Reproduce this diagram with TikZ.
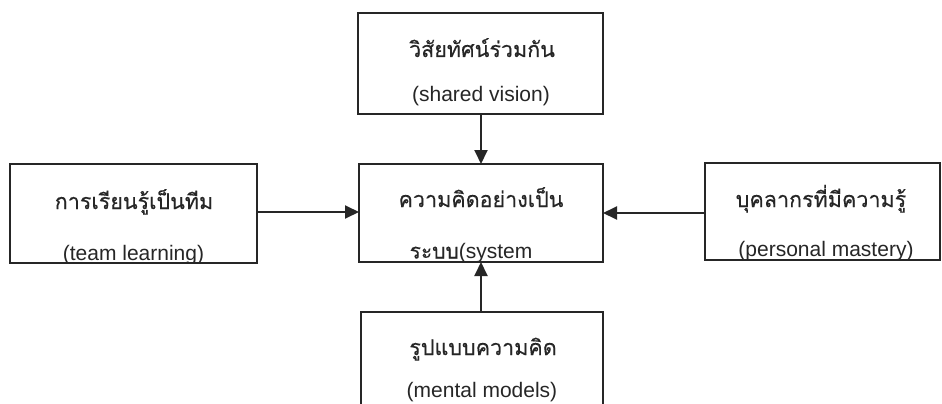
\documentclass[tikz,border=0pt]{standalone}
\usepackage{fontspec}
\setmainfont{Liberation Sans}
\newfontfamily\thaifont[Script=Thai,FakeBold=0.4]{Loma}
\usetikzlibrary{arrows.meta}
\begin{document}
\begin{tikzpicture}[x=1pt,y=-1pt,
  box/.style={draw=black!85, line width=1.9pt, inner sep=0pt, outer sep=0pt},
  th/.style={font=\thaifont\fontsize{21.5}{25}\selectfont, text=black!85, anchor=base, inner sep=0pt},
  en/.style={font=\fontsize{21}{25}\selectfont, text=black!85, anchor=base, inner sep=0pt},
  arr/.style={draw=black!85, line width=1.9pt, -{Triangle[length=14pt,width=13pt]}}]
\useasboundingbox (0,0) rectangle (942,404);
\clip (0,0) rectangle (942,404);
\fill[white] (0,0) rectangle (942,404);

% boxes
\node[box, minimum width=245pt, minimum height=101pt] (vis) at (480.5,63.5) {};
\node[box, minimum width=244pt, minimum height=98pt] (sys) at (481,213) {};
\node[box, minimum width=247pt, minimum height=99pt] (team) at (133.5,213.5) {};
\node[box, minimum width=235pt, minimum height=97pt] (pers) at (822.5,211.5) {};
\node[box, minimum width=242pt, minimum height=118pt] (ment) at (482,371) {};

% texts
\node[th] (visth) at (482,57) {วิสัยทัศน์ร่วมกัน};
\node[en] (visen) at (481,101) {(shared vision)};

\begin{scope}
\clip ([shift={(0.9pt,-0.9pt)}]team.south west) rectangle ([shift={(-0.9pt,0.9pt)}]team.north east);
\node[th] (teamth) at (134,209) {การเรียนรู้เป็นทีม};
\node[en] (teamen) at (133.5,260) {(team learning)};
\end{scope}

\begin{scope}
\clip ([shift={(0.9pt,-0.9pt)}]sys.south west) rectangle ([shift={(-0.9pt,0.9pt)}]sys.north east);
\node[th] (systh) at (481,207) {ความคิดอย่างเป็น};
\node[en] (sysen) at (471,258.5) {{\thaifont ระบบ}(system};
\end{scope}

\begin{scope}
\clip ([shift={(0.9pt,-0.9pt)}]pers.south west) rectangle ([shift={(-0.9pt,0.9pt)}]pers.north east);
\node[th] (persth) at (821,207) {บุคลากรที่มีความรู้};
\node[en] (persen) at (826,256.5) {(personal mastery)};
\end{scope}

\node[th] (mentth) at (483,355) {รูปแบบความคิด};
\node[en] (menten) at (482,397) {(mental models)};

% connectors
\draw[arr] (vis.south -| sys.north) -- (sys.north);
\draw[arr] ([yshift=1.5pt]team.east) -- ([yshift=1.5pt]team.east -| sys.west);
\draw[arr] ([yshift=-1.5pt]pers.west) -- ([yshift=-1.5pt]pers.west -| sys.east);
\draw[arr] (ment.north -| sys.south) -- (sys.south);
\end{tikzpicture}
\end{document}
